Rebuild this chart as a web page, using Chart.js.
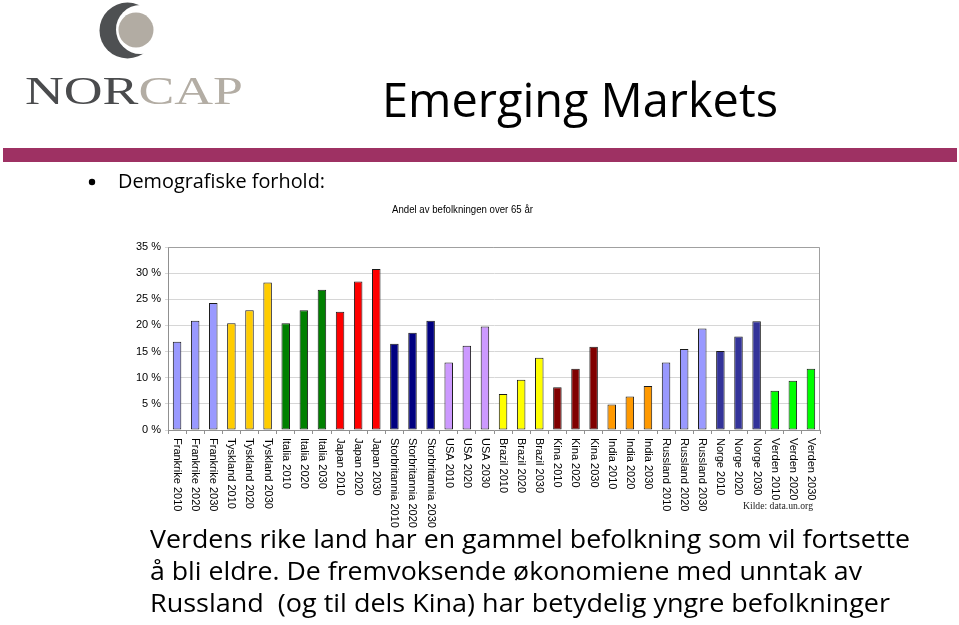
<!DOCTYPE html>
<html>
<head>
<meta charset="utf-8">
<script src="https://cdn.jsdelivr.net/npm/chart.js"></script>
<style>
  html, body { margin: 0; padding: 0; background: #fff; }
  #slide { position: relative; width: 959px; height: 625px; overflow: hidden; background: #fff; }
  #chartBox { position: absolute; left: 120px; top: 230px; width: 710px; height: 302px; }
  #deco { position: absolute; left: 0; top: 0; pointer-events: none; }
  #deco text { white-space: pre; }
</style>
</head>
<body>
<div id="slide">
  <div id="chartBox"><canvas id="graphCanvas"></canvas></div>
  <svg id="deco" width="959" height="625" xmlns="http://www.w3.org/2000/svg">
    <!-- logo -->
    <circle cx="127.5" cy="30.5" r="28" fill="#4e5052"/>
    <circle cx="140.5" cy="29.5" r="24.5" fill="#fff"/>
    <circle cx="136" cy="30" r="17.5" fill="#b2aca3"/>
    <text x="25" y="104" font-family="Liberation Serif, serif" font-size="41" textLength="218" lengthAdjust="spacingAndGlyphs"><tspan fill="#4a4b4d">NOR</tspan><tspan fill="#b3ada4">CAP</tspan></text>
    <!-- heading -->
    <text x="382" y="117" font-family="Open Sans, sans-serif" font-size="48" fill="#000" textLength="396" lengthAdjust="spacingAndGlyphs">Emerging Markets</text>
    <rect x="3" y="148" width="954" height="14" fill="#9e3163"/>
    <circle cx="92" cy="182" r="3.2" fill="#000"/>
    <text x="118" y="188" font-family="Open Sans, sans-serif" font-size="20" fill="#000" textLength="207" lengthAdjust="spacingAndGlyphs">Demografiske forhold:</text>
    <!-- chart title and source -->
    <text x="392" y="213" font-family="Liberation Sans, Arial, sans-serif" font-size="10.5" fill="#000" textLength="141" lengthAdjust="spacingAndGlyphs">Andel av befolkningen over 65 år</text>
    <text x="743" y="509" font-family="Liberation Serif, serif" font-size="10" fill="#222" textLength="70" lengthAdjust="spacingAndGlyphs">Kilde: data.un.org</text>
    <!-- body text -->
    <text x="150" y="548" font-family="Open Sans, sans-serif" font-size="25" fill="#000" textLength="760" lengthAdjust="spacingAndGlyphs">Verdens rike land har en gammel befolkning som vil fortsette</text>
    <text x="150" y="580" font-family="Open Sans, sans-serif" font-size="25" fill="#000" textLength="712" lengthAdjust="spacingAndGlyphs">å bli eldre. De fremvoksende økonomiene med unntak av</text>
    <text x="150" y="612" font-family="Open Sans, sans-serif" font-size="25" fill="#000" textLength="740" lengthAdjust="spacingAndGlyphs" xml:space="preserve">Russland  (og til dels Kina) har betydelig yngre befolkninger</text>
  </svg>
</div>
<script>
var countries = ['Frankrike', 'Tyskland', 'Italia', 'Japan', 'Storbritannia', 'USA',
                 'Brazil', 'Kina', 'India', 'Russland', 'Norge', 'Verden'];
var years = ['2010', '2020', '2030'];
// share of population over 65, in percent (3 values per country)
var shares = [
    16.9, 20.9, 24.3,
    20.4, 22.9, 28.2,
    20.4, 22.9, 26.8,
    22.6, 28.4, 30.8,
    16.5, 18.6, 20.9,
    12.9, 16.1, 19.8,
    6.9, 9.6, 13.8,
    8.2, 11.7, 15.9,
    4.9, 6.4, 8.4,
    12.9, 15.5, 19.4,
    15.1, 17.9, 20.8,
    7.5, 9.4, 11.7
];
var yTicks = [0, 5, 10, 15, 20, 25, 30, 35];
var countryColors = ['#9999ff', '#ffcc00', '#008000', '#ff0000', '#000080', '#cc99ff',
                     '#ffff00', '#800000', '#ff9900', '#9999ff', '#333399', '#00ff00'];

var labels = [];
var barColors = [];
for (var c in countries) {
    for (var y in years) {
        labels.push(countries[c] + ' ' + years[y]);
        barColors.push(countryColors[c]);
    }
}

// x labels read top to bottom, so draw them rotated clockwise
var downLabels = {
    id: 'downLabels',
    afterDraw: function (chart) {
        var ctx = chart.ctx;
        var xs = chart.scales.x;
        ctx.save();
        ctx.font = '11px "Liberation Sans", Arial, sans-serif';
        ctx.fillStyle = '#000';
        ctx.textAlign = 'left';
        ctx.textBaseline = 'middle';
        for (var i = 0; i < labels.length; i++) {
            ctx.save();
            ctx.translate(xs.getPixelForValue(i), xs.top + 8);
            ctx.rotate(Math.PI / 2);
            ctx.fillText(labels[i], 0, 0);
            ctx.restore();
        }
        ctx.restore();
    }
};

var plotFrame = {
    id: 'plotFrame',
    beforeDatasetsDraw: function (chart) {
        var a = chart.chartArea;
        var ctx = chart.ctx;
        ctx.save();
        ctx.strokeStyle = '#a0a0a0';
        ctx.lineWidth = 1;
        ctx.beginPath();
        ctx.moveTo(a.left, a.top + 0.5);
        ctx.lineTo(a.right - 0.5, a.top + 0.5);
        ctx.lineTo(a.right - 0.5, a.bottom);
        ctx.stroke();
        ctx.restore();
    }
};

var chartdata = {
    labels: labels,
    datasets: [
        {
            label: 'Andel av befolkningen over 65 år',
            backgroundColor: barColors,
            borderColor: '#1a1a1a',
            borderWidth: 1,
            borderSkipped: false,
            categoryPercentage: 1,
            barPercentage: 0.47,
            data: shares
        }
    ]
};

var graphTarget = document.getElementById('graphCanvas');

var barGraph = new Chart(graphTarget, {
    type: 'bar',
    data: chartdata,
    plugins: [downLabels, plotFrame],
    options: {
        responsive: true,
        maintainAspectRatio: false,
        animation: false,
        layout: { padding: { top: 17, right: 10, left: 0, bottom: 0 } },
        plugins: {
            legend: { display: false },
            tooltip: { enabled: false }
        },
        scales: {
            x: {
                ticks: { display: false },
                grid: { drawOnChartArea: false, drawTicks: true, tickLength: 4, offset: true, color: '#909090' },
                border: { color: '#909090' },
                afterFit: function (scale) { scale.height = 102; }
            },
            y: {
                min: 0,
                max: 35,
                afterBuildTicks: function (scale) {
                    scale.ticks = yTicks.map(function (v) { return { value: v }; });
                },
                ticks: {
                    color: '#000',
                    padding: 4,
                    font: { family: '"Liberation Sans", Arial, sans-serif', size: 11 },
                    callback: function (v) { return v + ' %'; }
                },
                grid: { color: '#d6d6d6', tickLength: 3 },
                border: { color: '#909090' },
                afterFit: function (scale) { scale.width = 48; }
            }
        }
    }
});
</script>
</body>
</html>
